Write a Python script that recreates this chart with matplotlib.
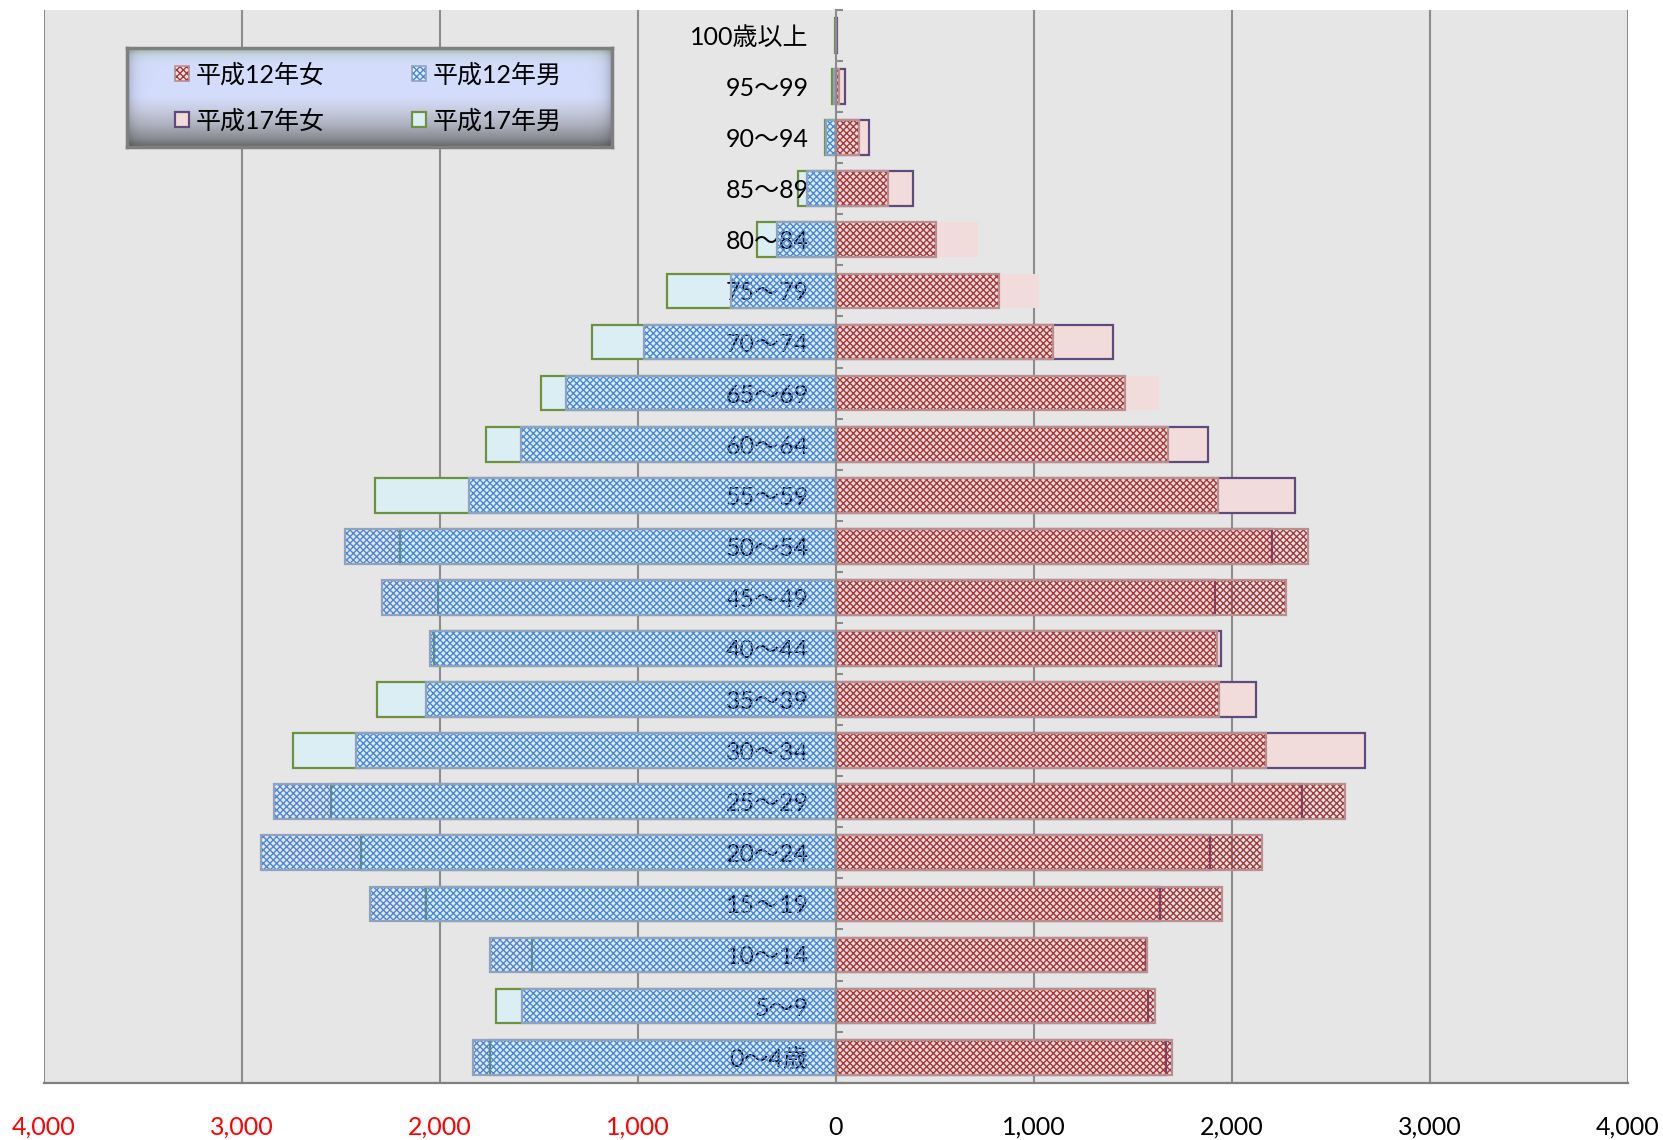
import numpy as np
import matplotlib
matplotlib.use("Agg")
import matplotlib.pyplot as plt
from matplotlib.patches import Patch
from matplotlib.legend_handler import HandlerTuple

plt.rcParams['font.family'] = ['Lato', 'Noto Sans CJK JP', 'DejaVu Sans']
plt.rcParams['hatch.linewidth'] = 1.0

# 年齢階級（下から上へ）
ages = ['0～4歳', '5～9', '10～14', '15～19', '20～24', '25～29', '30～34',
        '35～39', '40～44', '45～49', '50～54', '55～59', '60～64', '65～69',
        '70～74', '75～79', '80～84', '85～89', '90～94', '95～99', '100歳以上']

h12_m = [1830, 1583, 1745, 2354, 2901, 2838, 2423, 2071, 2050, 2293, 2480,
         1854, 1591, 1362, 970, 530, 295, 143, 50, 8, 1]
h17_m = [1748, 1717, 1532, 2069, 2396, 2547, 2742, 2317, 2030, 2007, 2199,
         2327, 1766, 1490, 1232, 854, 399, 189, 55, 20, 2]
h12_f = [1697, 1613, 1571, 1953, 2155, 2572, 2174, 1938, 1924, 2273, 2383,
         1929, 1679, 1463, 1098, 826, 507, 265, 118, 15, 2]
h17_f = [1667, 1579, 1569, 1638, 1890, 2357, 2674, 2121, 1948, 1916, 2202,
         2320, 1879, 1635, 1402, 1029, 718, 390, 169, 46, 5]

# 枠線が描かれていない平成17年女の棒
f17_no_edge = ['65～69', '75～79', '80～84']

W, H = 1663, 1140
fig = plt.figure(figsize=(W / 100, H / 100), dpi=100)
ax = fig.add_axes([43.7 / W, 1 - 1082.7 / H, 1584 / W, 1072.7 / H])
ax.set_facecolor('#E6E6E6')

y = np.arange(len(ages))
bh = 0.68
m12 = -np.array(h12_m)
m17 = -np.array(h17_m)

for v in range(-4000, 4001, 1000):
    if v != 0:
        ax.axvline(v, color='#8C8C8C', lw=1.5, zorder=0.5)

# 平成17年（塗りつぶし）
ax.barh(y, m17, height=bh, color='#DBEEF4', edgecolor='#6E9140', lw=1.6, zorder=1)
f17_edges = ['none' if a in f17_no_edge else '#5F4B7B' for a in ages]
ax.barh(y, h17_f, height=bh, color='#F2DCDB', edgecolor=f17_edges, lw=1.6, zorder=1)

# 平成12年（網掛け、下が透ける）
ax.barh(y, m12, height=bh, facecolor='none', edgecolor='#4A86DA',
        hatch='xxxxx', lw=0, zorder=2)
ax.barh(y, m12, height=bh, facecolor='none', edgecolor='#8FA3BF', lw=1.6, zorder=2)
ax.barh(y, h12_f, height=bh, facecolor='none', edgecolor='#A5363A',
        hatch='xxxxx', lw=0, zorder=2)
ax.barh(y, h12_f, height=bh, facecolor='none', edgecolor='#B88E8E', lw=1.6, zorder=2)

ax.set_xlim(-4000, 4000)
ax.set_ylim(-0.5, len(ages) - 0.5)

for s in ['top', 'right']:
    ax.spines[s].set_visible(False)
ax.spines['bottom'].set_color('#808080')
ax.spines['bottom'].set_linewidth(1.6)
ax.spines['left'].set_position(('data', 0))
ax.spines['left'].set_color('#8C8C8C')
ax.spines['left'].set_linewidth(1.5)

ax.set_yticks(y)
ax.set_yticklabels(ages)
ax.set_yticks(np.arange(-0.5, len(ages), 1), minor=True)
ax.tick_params(axis='y', which='major', length=0, pad=19.5, labelsize=18)
ax.tick_params(axis='y', which='minor', direction='in', length=5,
               width=1.5, color='#8C8C8C')

xt = list(range(-4000, 4001, 1000))
ax.set_xticks(xt)
ax.set_xticklabels([f"{abs(v):,}" for v in xt])
ax.tick_params(axis='x', length=0, pad=24, labelsize=18)
for v, lab in zip(xt, ax.get_xticklabels()):
    lab.set_color('#FF0000' if v < 0 else 'black')

# 凡例の背景（グラデーション）
lax = fig.add_axes([127 / W, 1 - 147 / H, 485 / W, 99 / H])
stops = [(0.0, '#9DB2A6'), (0.08, '#C8D5E6'), (0.16, '#D3DCFA'), (0.50, '#D4DDFB'),
         (0.62, '#C9CEE4'), (0.78, '#AEB1BE'), (0.92, '#8A8C92'), (1.0, '#66676B')]
pos = [p for p, _ in stops]
rgb = np.array([matplotlib.colors.to_rgb(c) for _, c in stops])
yy = np.linspace(0, 1, 99)
col = np.stack([np.interp(yy, pos, rgb[:, k]) for k in range(3)], axis=1)
xx = np.arange(485)
edge = 1 - 0.22 * np.exp(-np.minimum(xx, 484 - xx) / 6.0)
img = col[:, None, :] * edge[None, :, None]
lax.imshow(np.clip(img, 0, 1), aspect='auto', interpolation='bilinear')
lax.set_xticks([])
lax.set_yticks([])
for s in lax.spines.values():
    s.set_color('#7F7F7F')
    s.set_linewidth(2.5)

handles = [
    (Patch(facecolor='#F4E4E4', edgecolor='#A5363A', hatch='xxxxx', lw=0),
     Patch(facecolor='none', edgecolor='#B88E8E', lw=1.2)),
    Patch(facecolor='#F2DCDB', edgecolor='#5F4B7B', lw=1.6),
    (Patch(facecolor='#E4EEF8', edgecolor='#4A86DA', hatch='xxxxx', lw=0),
     Patch(facecolor='none', edgecolor='#8FA3BF', lw=1.2)),
    Patch(facecolor='#DBEEF4', edgecolor='#6E9140', lw=1.6),
]
labels = ['平成12年女', '平成17年女', '平成12年男', '平成17年男']
fig.legend(handles, labels, loc='center', bbox_to_anchor=(368.4 / W, 1 - 97.5 / H),
           ncol=2, frameon=False, fontsize=18, handlelength=0.56, handleheight=0.56,
           handletextpad=0.25, columnspacing=3.5, labelspacing=0.9, borderpad=0,
           handler_map={tuple: HandlerTuple(ndivide=1)})

fig.savefig('out.png', dpi=100)
